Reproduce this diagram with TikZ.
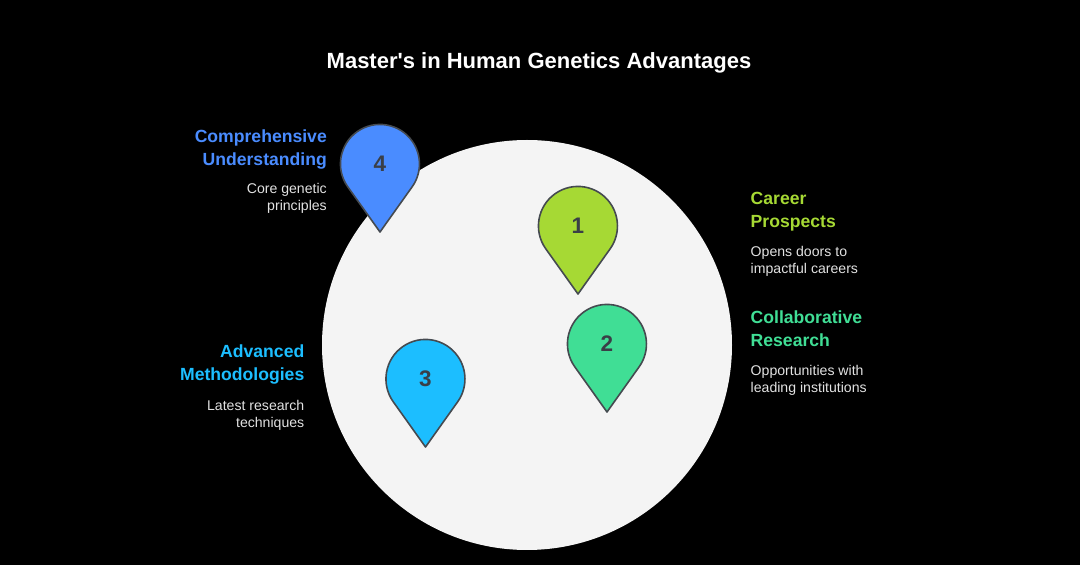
\documentclass[tikz,border=0pt]{standalone}
\usepackage{fontspec}
\setmainfont{Liberation Sans}
\definecolor{pinA}{HTML}{A6D934}
\definecolor{pinB}{HTML}{40DE95}
\definecolor{pinC}{HTML}{1CBEFF}
\definecolor{pinD}{HTML}{4A8CFF}
\definecolor{ink}{HTML}{3A3F47}
\definecolor{disc}{HTML}{F4F4F4}
\definecolor{body}{HTML}{E2E2E2}
\definecolor{pinline}{HTML}{454A50}
\newcommand{\pinmark}[5]{%
  \fill[#4,draw=pinline,line width=1.6pt,line join=round,shift={(#2,#3)}]
    (0,-68) -- (-32.4,-22.6) arc[start angle=215,end angle=-35,radius=39.5] -- cycle;
  \node[pinnum] (#1) at (#2,#3) {#5};
}
\tikzset{
  x=1pt,y=1pt,
  pinnum/.style={font=\fontsize{22.5}{22.5}\selectfont\bfseries,text=ink,inner sep=0pt},
  headr/.style={font=\fontsize{17.6}{23}\selectfont\bfseries,align=right,anchor=north east,inner sep=0pt},
  headl/.style={font=\fontsize{17.6}{23}\selectfont\bfseries,align=left,anchor=north west,inner sep=0pt},
  bodyr/.style={font=\fontsize{14.1}{17}\selectfont,text=body,align=right,anchor=north east,inner sep=0pt},
  bodyl/.style={font=\fontsize{14.1}{17}\selectfont,text=body,align=left,anchor=north west,inner sep=0pt},
}
\begin{document}
\begin{tikzpicture}
\useasboundingbox (0,0) rectangle (1080,565);
\fill[black] (0,0) rectangle (1080,565);
\fill[disc] (527,220) circle[radius=205];
\node[font=\fontsize{22}{26}\selectfont\bfseries,text=white,inner sep=0pt] (title) at (539,502) {Master\textquotesingle s in Human Genetics Advantages};
\pinmark{p1}{578}{339}{pinA}{1}
\pinmark{p2}{607}{221}{pinB}{2}
\pinmark{p3}{425.5}{186}{pinC}{3}
\pinmark{p4}{380}{401}{pinD}{4}
\node[headr,text=pinD] (h4) at (327,435) {Comprehensive\\Understanding};
\node[bodyr] (b4) at (327,381.5) {Core genetic\\principles};
\node[headl,text=pinA] (h1) at (750.5,373) {Career\\Prospects};
\node[bodyl] (b1) at (750.5,318.5) {Opens doors to\\impactful careers};
\node[headl,text=pinB] (h2) at (750.5,254) {Collaborative\\Research};
\node[bodyl] (b2) at (750.5,199.5) {Opportunities with\\leading institutions};
\node[headr,text=pinC] (h3) at (304.5,220) {Advanced\\Methodologies};
\node[bodyr] (b3) at (304.5,165) {Latest research\\techniques};
\end{tikzpicture}
\end{document}
